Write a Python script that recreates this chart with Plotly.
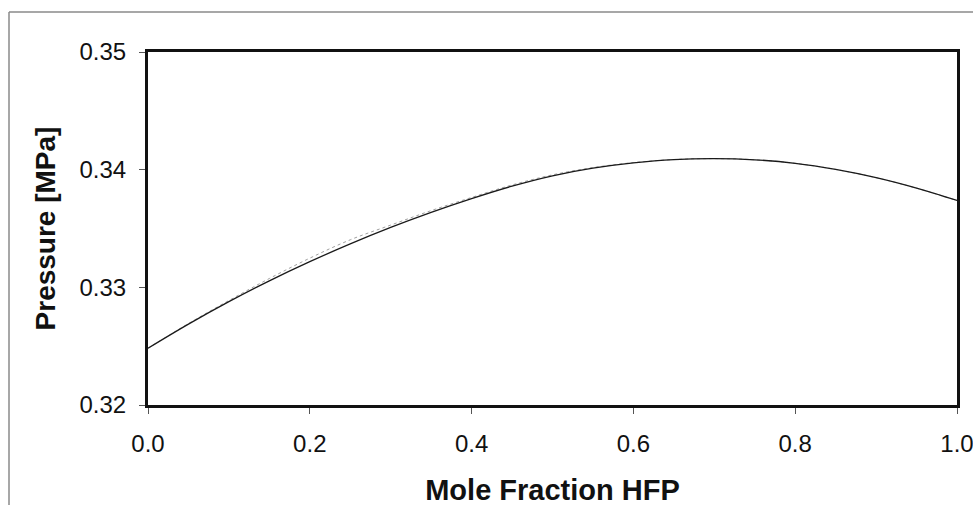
import plotly.graph_objects as go

# Vapour-liquid equilibrium pressure of the binary mixture vs. HFP mole fraction
x_hfp = [0.0, 0.05, 0.1, 0.15, 0.2, 0.25, 0.3, 0.35, 0.4, 0.45, 0.5,
         0.55, 0.6, 0.65, 0.7, 0.75, 0.8, 0.85, 0.9, 0.95, 1.0]
p_bubble = [0.32482, 0.32687, 0.32878, 0.33055, 0.33218, 0.33369, 0.33509, 0.33637,
            0.33754, 0.33860, 0.33948, 0.34013, 0.34058, 0.34086, 0.34094, 0.34084,
            0.34054, 0.34002, 0.33932, 0.33843, 0.33738]
p_dew = [0.32482, 0.32692, 0.32888, 0.33075, 0.33248, 0.33404, 0.33529, 0.33652,
         0.33764, 0.33870, 0.33956, 0.34018, 0.34060, 0.34086, 0.34094, 0.34084,
         0.34054, 0.34002, 0.33932, 0.33843, 0.33738]

x_ticks = [0.0, 0.2, 0.4, 0.6, 0.8, 1.0]
x_tick_text = ["0.0", "0.2", "0.4", "0.6", "0.8", "1.0"]
y_ticks = [0.32, 0.33, 0.34, 0.35]
y_tick_text = ["0.32", "0.33", "0.34", "0.35"]

W, H = 973, 511
L, R, T, B = 148, 16, 52, 106
pw, ph = W - L - R, H - T - B


def px_x(p):
    return (p - L) / pw


def px_y(p):
    return (H - B - p) / ph


fig = go.Figure()
fig.add_trace(go.Scatter(x=x_hfp, y=p_dew, mode="lines",
                         line=dict(color="#a0a0a0", width=1, dash="dot", shape="spline"),
                         hoverinfo="skip", showlegend=False))
fig.add_trace(go.Scatter(x=x_hfp, y=p_bubble, mode="lines",
                         line=dict(color="#1a1a1a", width=1.3, shape="spline"),
                         showlegend=False))

font_family = "Liberation Sans, Arial, sans-serif"

fig.update_layout(
    width=W, height=H,
    margin=dict(l=L, r=R, t=T, b=B, autoexpand=False),
    paper_bgcolor="white", plot_bgcolor="white",
    font=dict(family=font_family, color="#111111"),
    xaxis=dict(range=[0, 1.0], tickvals=x_ticks, ticktext=x_tick_text,
               showgrid=False, zeroline=False, showline=True, mirror=True,
               linecolor="#111111", linewidth=3, ticks="outside", ticklen=6,
               tickcolor="#555555", tickwidth=1, tickfont=dict(size=24),
               ticklabelstandoff=9, ticklabeloverflow="allow", automargin=False,
               title=dict(text="<b>Mole Fraction HFP</b>", font=dict(size=29),
                          standoff=24)),
    yaxis=dict(range=[0.32, 0.35], tickvals=y_ticks, ticktext=y_tick_text,
               showgrid=False, zeroline=False, showline=True, mirror=True,
               linecolor="#111111", linewidth=3, ticks="outside", ticklen=6,
               tickcolor="#555555", tickwidth=1, tickfont=dict(size=24),
               ticklabelstandoff=8, automargin=False,
               title=dict(text="<b>Pressure [MPa]</b>", font=dict(size=28),
                          standoff=16)),
    shapes=[
        dict(type="line", xref="paper", yref="paper",
             x0=px_x(9), x1=px_x(973), y0=px_y(12), y1=px_y(12),
             line=dict(color="#8a8a8a", width=1.5)),
        dict(type="line", xref="paper", yref="paper",
             x0=px_x(9), x1=px_x(9), y0=px_y(12), y1=px_y(505),
             line=dict(color="#8a8a8a", width=1.5)),
    ],
)

fig.write_html("out.html")
